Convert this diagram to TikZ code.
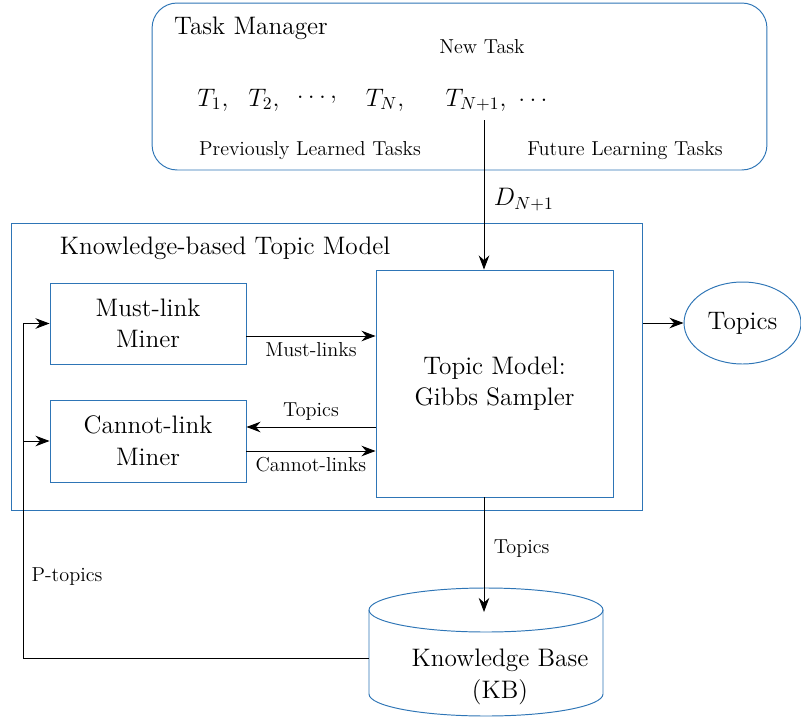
\documentclass[tikz,border=0pt]{standalone}
\usetikzlibrary{shapes.geometric,arrows.meta}
\definecolor{boxblue}{RGB}{46,117,182}
\tikzset{
  bluebox/.style={draw=boxblue,line width=0.55pt,inner sep=0pt,align=center,font=\Large},
  flow/.style={-{Stealth[length=8pt,width=6pt]},line width=0.5pt},
  lbl/.style={font=\fontsize{11.5}{14}\selectfont},
}
\begin{document}
\begin{tikzpicture}[x=0.02cm,y=-0.02cm]
\useasboundingbox (0,0) rectangle (801,717);
% task manager
\node[bluebox,rounded corners=0.5cm,minimum width=12.3cm,minimum height=3.34cm] (taskmgr) at (459.5,86.5) {};
\node[anchor=west,font=\Large] (tmtitle) at (168,28) {Task Manager};
\node[lbl] (newtask) at (482,47) {New Task};
\node[font=\Large] (t1) at (213,100) {$T_1,$};
\node[font=\Large] (t2) at (264,100) {$T_2,$};
\node[font=\Large] (dots1) at (317,100) {$\ldots,$};
\node[font=\Large] (tn) at (385,100) {$T_N,$};
\node[font=\Large] (tnext) at (476,100) {$T_{N+1},$};
\node[font=\Large] (dots2) at (533,100) {$\ldots$};
\node[lbl] (prev) at (310,151) {Previously Learned Tasks};
\node[lbl] (future) at (625,151) {Future Learning Tasks};
% knowledge-based topic model
\node[bluebox,minimum width=12.64cm,minimum height=5.76cm] (ktm) at (327,367) {};
\node[font=\Large] (ktmtitle) at (225,248) {Knowledge-based Topic Model};
\node[bluebox,minimum width=3.92cm,minimum height=1.62cm] (mustminer) at (148,323.5) {Must-link\\Miner};
\node[bluebox,minimum width=3.92cm,minimum height=1.64cm] (cannotminer) at (148,441) {Cannot-link\\Miner};
\node[bluebox,minimum width=4.74cm,minimum height=4.54cm] (tm) at (494.5,383.5) {Topic Model:\\Gibbs Sampler};
\node[bluebox,ellipse,minimum width=2.34cm,minimum height=1.64cm] (topics) at (742.5,323) {Topics};
% knowledge base cylinder
\node[inner sep=0pt,minimum width=4.68cm,minimum height=2.56cm] (kb) at (486,652) {};
\draw[boxblue,line width=0.55pt] (486,610) ellipse[x radius=117,y radius=22];
\draw[boxblue,line width=0.55pt] (369,610) -- (369,694) arc[start angle=180,end angle=0,x radius=117,y radius=22] -- (603,610);
\node[font=\Large,align=center] (kbtext) at (500,677) {Knowledge Base\\(KB)};
% connectors
\coordinate (newtop) at (484,120);
\draw[flow] (newtop) -- (newtop |- tm.north) node[pos=0.53,right=2pt,font=\Large] {$D_{N+1}$};
\draw[flow] ([yshift=-0.25cm]mustminer.east) -- ([yshift=-0.25cm]mustminer.east -| tm.west) node[midway,below,lbl] {Must-links};
\draw[flow] ([yshift=0.28cm]cannotminer.east -| tm.west) -- ([yshift=0.28cm]cannotminer.east) node[midway,above,lbl] {Topics};
\draw[flow] ([yshift=-0.2cm]cannotminer.east) -- ([yshift=-0.2cm]cannotminer.east -| tm.west) node[midway,below,lbl] {Cannot-links};
\draw[flow] (ktm.east |- topics.west) -- (topics.west);
\coordinate (kbin) at (484,612);
\draw[flow] (tm.south -| kbin) -- (kbin) node[pos=0.45,right=2pt,lbl] {Topics};
\coordinate (pbend) at (23,323.5);
\draw[flow] ([yshift=-0.12cm]kb.west) -| (pbend) -- (mustminer.west);
\draw[flow] (pbend |- cannotminer.west) -- (cannotminer.west);
\node[lbl] (ptopics) at (67,577) {P-topics};
\end{tikzpicture}
\end{document}
